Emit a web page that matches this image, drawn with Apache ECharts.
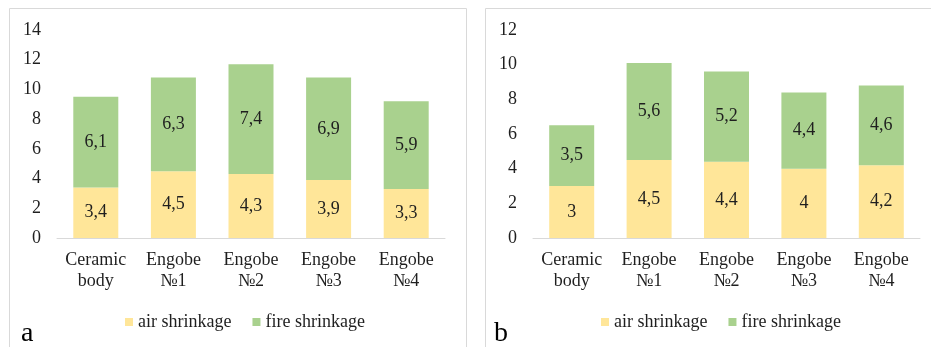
<!DOCTYPE html>
<html>
<head>
<meta charset="utf-8">
<script src="https://cdn.jsdelivr.net/npm/echarts@6/dist/echarts.min.js"></script>
<style>
  html, body { margin: 0; padding: 0; background: #fff; }
  #chart { width: 931px; height: 347px; }
</style>
</head>
<body>
<div id="chart"></div>
<script>
// Shared categories
const categories = ['Ceramic\nbody', 'Engobe\n№1', 'Engobe\n№2', 'Engobe\n№3', 'Engobe\n№4'];

// Panel a
const airA = [3.4, 4.5, 4.3, 3.9, 3.3];
const fireA = [6.1, 6.3, 7.4, 6.9, 5.9];
const ticksA = { min: 0, max: 14, interval: 2 };

// Panel b
const airB = [3, 4.5, 4.4, 4, 4.2];
const fireB = [3.5, 5.6, 5.2, 4.4, 4.6];
const ticksB = { min: 0, max: 12, interval: 2 };

const seriesNames = ['air shrinkage', 'fire shrinkage'];
const panelLetters = ['a', 'b'];

const FONT = "'Liberation Serif', 'DejaVu Serif', serif";
const TEXT = '#1f1f1f';
const AIR = '#FFE699';
const FIRE = '#A9D18E';
const LINE = '#d9d9d9';

const chart = echarts.init(document.getElementById('chart'), null, { renderer: 'canvas' });

function xAxis(gridIndex) {
  return {
    type: 'category', gridIndex, data: categories,
    axisLine: { lineStyle: { color: LINE, width: 1 } },
    axisTick: { show: false },
    axisLabel: { color: TEXT, fontFamily: FONT, fontSize: 18, lineHeight: 21, margin: 12, interval: 0 }
  };
}
function yAxis(gridIndex, t) {
  return {
    type: 'value', gridIndex, min: t.min, max: t.max, interval: t.interval,
    splitLine: { show: false },
    axisLine: { show: false },
    axisTick: { show: false },
    axisLabel: { color: TEXT, fontFamily: FONT, fontSize: 18, margin: 16 }
  };
}
const label = {
  show: true, position: 'inside', color: TEXT, fontFamily: FONT, fontSize: 18,
  formatter: p => String(p.value).replace('.', ',')
};
function bar(name, data, color, idx, stack) {
  return {
    name, type: 'bar', stack, data, xAxisIndex: idx, yAxisIndex: idx,
    barWidth: 45, itemStyle: { color }, label, emphasis: { disabled: true }
  };
}
function legend(left) {
  return {
    left, top: 308, itemWidth: 8, itemHeight: 8, itemGap: 21, icon: 'rect',
    data: seriesNames,
    textStyle: { color: TEXT, fontFamily: FONT, fontSize: 18 }
  };
}

chart.setOption({
  animation: false,
  grid: [
    { left: 57, right: 486, top: 30, bottom: 109 },
    { left: 533, right: 11, top: 30, bottom: 109 }
  ],
  xAxis: [xAxis(0), xAxis(1)],
  yAxis: [yAxis(0, ticksA), yAxis(1, ticksB)],
  legend: [legend(120), legend(596)],
  series: [
    bar(seriesNames[0], airA, AIR, 0, 'a'),
    bar(seriesNames[1], fireA, FIRE, 0, 'a'),
    bar(seriesNames[0], airB, AIR, 1, 'b'),
    bar(seriesNames[1], fireB, FIRE, 1, 'b')
  ],
  graphic: [
    { type: 'rect', shape: { x: 9.5, y: 8.5, width: 457, height: 360 }, style: { fill: 'none', stroke: LINE, lineWidth: 1 }, z: -1 },
    { type: 'rect', shape: { x: 485.5, y: 8.5, width: 460, height: 360 }, style: { fill: 'none', stroke: LINE, lineWidth: 1 }, z: -1 },
    { type: 'text', left: 21, top: 320, style: { text: panelLetters[0], fill: '#000', fontSize: 28, fontFamily: FONT } },
    { type: 'text', left: 494, top: 320, style: { text: panelLetters[1], fill: '#000', fontSize: 28, fontFamily: FONT } }
  ]
});
</script>
</body>
</html>
